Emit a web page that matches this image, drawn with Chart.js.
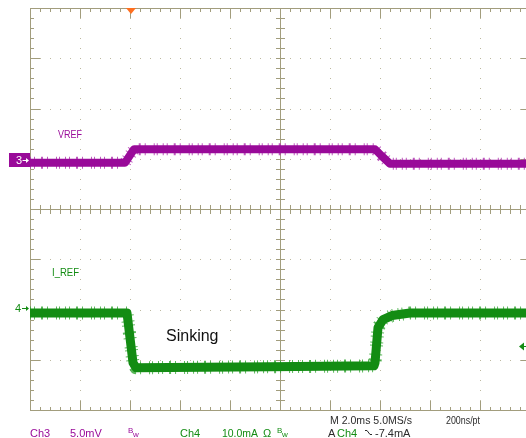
<!DOCTYPE html>
<html>
<head>
<meta charset="utf-8">
<script src="https://cdn.jsdelivr.net/npm/chart.js@4/dist/chart.umd.min.js"></script>
<style>
  html, body { margin: 0; padding: 0; background: #ffffff; overflow: hidden; }
  #wrap { position: relative; width: 540px; height: 438px; }
</style>
</head>
<body>
<div id="wrap"><canvas id="scope" width="540" height="438"></canvas></div>
<script>
// Ch3 (VREF, 5.0 mV/div) — time in ms relative to the trigger, level in mV above its ground marker
const vrefTime = [-4, -0.2, 0.16, 9.8, 10.1, 10.4, 16];
const vrefMv   = [-0.25, -0.25, 1.1, 1.1, 0.35, -0.35, -0.35];

// Ch4 (I_REF, 10.0 mA/div) — time in ms, current in mA above its ground marker
const irefTime = [-4, -0.12, 0.12, 0.24, 5.6, 9.76, 9.8, 9.92, 10.12, 10.48, 11.2, 16];
const irefMa   = [-0.9, -0.9, -10.8, -11.8, -11.6, -11.4, -10.8, -3.8, -2.2, -1.4, -0.9, -0.9];

// Acquisition settings shown in the readout
const timePerDiv = 2.0;        // ms
const ch3PerDiv = 5.0;         // mV
const ch4PerDiv = 10.0;        // mA
const triggerLevel = -7.4;     // mA, falling edge on Ch4
const readout = {
  ch3: ['Ch3', '5.0mV'],
  ch4: ['Ch4', '10.0mA'],
  horiz: 'M 2.0ms 5.0MS/s',
  rate: '200ns/pt',
  trig: ['A', 'Ch4', '-7.4mA']
};

const PURPLE = '#990a99';
const GREEN = '#138c13';

const pts = (xs, ys) => xs.map((x, i) => ({ x, y: ys[i] }));

const gridColor = '#a29d7d';
const dotColor = '#bdb9a0';

const scopeGrid = {
  id: 'scopeGrid',
  beforeDatasetsDraw(chart) {
    const { ctx, chartArea: a } = chart;
    const L = a.left, R = a.right, T = a.top, B = a.bottom;
    const dx = (R - L) / 10, dy = (B - T) / 8;
    ctx.save();
    // dotted division lines
    ctx.fillStyle = dotColor;
    for (let i = 1; i < 10; i++) {
      if (i === 5) continue;
      const x = Math.round(L + i * dx);
      for (let k = 1; k < 40; k++) ctx.fillRect(x, Math.round(T + k * dy / 5), 1, 1);
    }
    for (let j = 1; j < 8; j++) {
      if (j === 4) continue;
      const y = Math.round(T + j * dy);
      for (let k = 1; k < 50; k++) ctx.fillRect(Math.round(L + k * dx / 5), y, 1, 1);
    }
    ctx.fillStyle = gridColor;
    // frame
    ctx.fillRect(Math.round(L), Math.round(T), Math.round(R - L) + 1, 1);
    ctx.fillRect(Math.round(L), Math.round(B), Math.round(R - L) + 1, 1);
    ctx.fillRect(Math.round(L), Math.round(T), 1, Math.round(B - T) + 1);
    ctx.fillRect(Math.round(R), Math.round(T), 1, Math.round(B - T) + 1);
    // frame ticks
    for (let k = 1; k < 50; k++) {
      const x = Math.round(L + k * dx / 5);
      const len = k % 5 === 0 ? 10 : 4;
      ctx.fillRect(x, Math.round(T), 1, len);
      ctx.fillRect(x, Math.round(B) - len + 1, 1, len);
    }
    for (let k = 1; k < 40; k++) {
      const y = Math.round(T + k * dy / 5);
      const len = k % 5 === 0 ? 10 : 4;
      ctx.fillRect(Math.round(L), y, len, 1);
      ctx.fillRect(Math.round(R) - len + 1, y, len, 1);
    }
    // centre cross with minor ticks
    const cx = Math.round(L + 5 * dx), cy = Math.round(T + 4 * dy);
    ctx.fillRect(cx, Math.round(T), 1, Math.round(B - T));
    ctx.fillRect(Math.round(L), cy, Math.round(R - L), 1);
    for (let k = 1; k < 40; k++) ctx.fillRect(cx - 4, Math.round(T + k * dy / 5), 9, 1);
    for (let k = 1; k < 50; k++) ctx.fillRect(Math.round(L + k * dx / 5), cy - 4, 1, 9);
    ctx.restore();
  },
  afterDraw(chart) {
    const { ctx, chartArea: a, scales } = chart;
    const xs = scales.x, y3 = scales.y3, y4 = scales.y4;
    const T = a.top;
    ctx.save();
    ctx.textBaseline = 'alphabetic';
    const txt = (s, x, y, color, font, maxW) => {
      ctx.font = font; ctx.fillStyle = color;
      if (maxW) ctx.fillText(s, x, y, maxW); else ctx.fillText(s, x, y);
    };
    const F = '11px "Liberation Sans", Arial, sans-serif';
    const FS = '8px "Liberation Sans", Arial, sans-serif';

    // trigger position marker
    const tx = xs.getPixelForValue(0) + 1;
    ctx.fillStyle = '#ff6f1f';
    ctx.beginPath();
    ctx.moveTo(tx - 5, T); ctx.lineTo(tx + 5, T); ctx.lineTo(tx, T + 6); ctx.closePath(); ctx.fill();

    // Ch3 ground marker
    const g3 = y3.getPixelForValue(0);
    ctx.fillStyle = PURPLE;
    ctx.fillRect(9, Math.round(g3) - 7, 21, 14);
    txt('3', 16, Math.round(g3) + 4, '#ffffff', F);
    ctx.strokeStyle = '#ffffff'; ctx.lineWidth = 1;
    ctx.beginPath(); ctx.moveTo(22.5, Math.round(g3) + 0.5); ctx.lineTo(28, Math.round(g3) + 0.5); ctx.stroke();
    ctx.fillStyle = '#ffffff';
    ctx.beginPath(); ctx.moveTo(29, Math.round(g3) + 0.5); ctx.lineTo(26, Math.round(g3) - 2); ctx.lineTo(26, Math.round(g3) + 3); ctx.closePath(); ctx.fill();

    // Ch4 ground marker
    const g4 = y4.getPixelForValue(0);
    txt('4', 15, Math.round(g4) + 4, GREEN, F);
    ctx.strokeStyle = GREEN;
    ctx.beginPath(); ctx.moveTo(22, Math.round(g4) + 0.5); ctx.lineTo(27, Math.round(g4) + 0.5); ctx.stroke();
    ctx.fillStyle = GREEN;
    ctx.beginPath(); ctx.moveTo(29, Math.round(g4) + 0.5); ctx.lineTo(26, Math.round(g4) - 2); ctx.lineTo(26, Math.round(g4) + 3); ctx.closePath(); ctx.fill();

    // trigger level marker on the right edge
    const tl = Math.round(y4.getPixelForValue(triggerLevel)) + 0.5;
    ctx.beginPath(); ctx.moveTo(519, tl); ctx.lineTo(524, tl - 4); ctx.lineTo(524, tl + 4); ctx.closePath(); ctx.fill();
    ctx.strokeStyle = GREEN;
    ctx.beginPath(); ctx.moveTo(523, tl); ctx.lineTo(527, tl); ctx.stroke();

    // trace labels
    txt('VREF', 58, 137.5, PURPLE, F, 24);
    txt('I_REF', 52, 275.5, GREEN, F, 27);
    txt('Sinking', 166, 340.5, '#111111', '16px "Liberation Sans", Arial, sans-serif');

    // readout
    const dark = '#2b2b2b';
    txt(readout.horiz, 330, 424, dark, F, 82);
    txt(readout.rate, 446, 424, dark, F, 34);
    txt(readout.ch3[0], 30, 437, PURPLE, F);
    txt(readout.ch3[1], 70, 437, PURPLE, F);
    txt('B', 128, 433, PURPLE, FS); txt('w', 133, 437, PURPLE, FS);
    txt(readout.ch4[0], 180, 437, GREEN, F);
    txt(readout.ch4[1], 222, 437, GREEN, F, 36);
    txt('\u03A9', 263, 437, GREEN, F);
    txt('B', 277, 433, GREEN, FS); txt('w', 282, 437, GREEN, FS);
    txt(readout.trig[0], 328, 437, dark, F);
    txt(readout.trig[1], 337, 437, GREEN, F);
    // falling-edge symbol
    ctx.strokeStyle = dark; ctx.lineWidth = 1;
    ctx.beginPath(); ctx.moveTo(365, 430.5); ctx.lineTo(367, 430.5); ctx.lineTo(370, 434.5); ctx.lineTo(372, 434.5); ctx.stroke();
    txt(readout.trig[2], 375, 437, dark, F);
    ctx.restore();
  }
};

// noisy acquisition band: solid core plus a sparse broken halo around it
const noiseDash = [1, 3, 1, 6, 2, 4, 1, 8, 1, 2, 1, 5];

new Chart(document.getElementById('scope'), {
  type: 'line',
  data: {
    datasets: [
      { label: 'VREF', yAxisID: 'y3', data: pts(vrefTime, vrefMv), borderColor: PURPLE, borderWidth: 8, order: 0 },
      { label: 'I_REF', yAxisID: 'y4', data: pts(irefTime, irefMa), borderColor: GREEN, borderWidth: 9, order: 0 },
      { label: 'VREF noise', yAxisID: 'y3', data: pts(vrefTime, vrefMv), borderColor: 'rgba(175,50,175,0.8)', borderWidth: 12, borderDash: noiseDash, order: 1 },
      { label: 'I_REF noise', yAxisID: 'y4', data: pts(irefTime, irefMa), borderColor: 'rgba(50,165,50,0.8)', borderWidth: 13, borderDash: noiseDash, order: 1 }
    ]
  },
  options: {
    responsive: false,
    animation: false,
    layout: { padding: { left: 30, right: 10, top: 8, bottom: 28 } },
    elements: { point: { radius: 0 }, line: { tension: 0, borderJoinStyle: 'round', borderCapStyle: 'butt' } },
    plugins: { legend: { display: false }, tooltip: { enabled: false } },
    scales: {
      x: { type: 'linear', min: -2 * timePerDiv, max: 8 * timePerDiv, display: false },
      y3: { type: 'linear', min: -4.97 * ch3PerDiv, max: 3.03 * ch3PerDiv, display: false },
      y4: { type: 'linear', min: -2.02 * ch4PerDiv, max: 5.98 * ch4PerDiv, display: false }
    }
  },
  plugins: [scopeGrid]
});
</script>
</body>
</html>
